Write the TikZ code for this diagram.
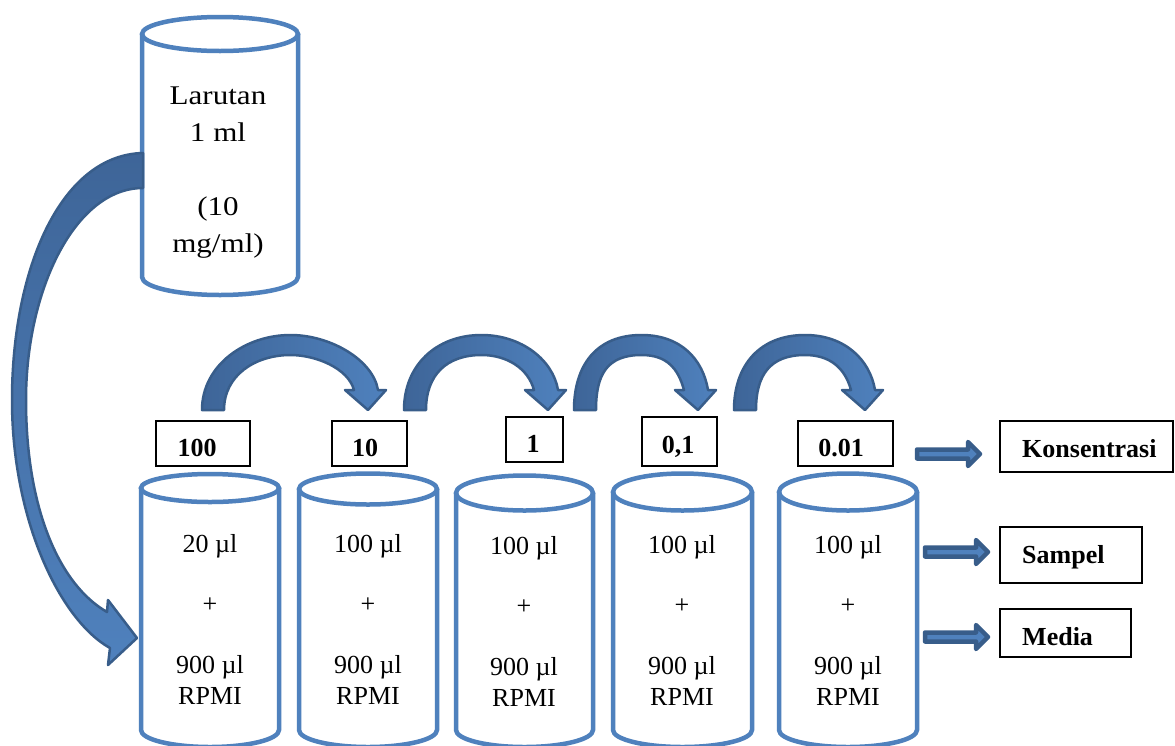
\documentclass[tikz,border=0pt]{standalone}
\usepackage{fontspec}
\setmainfont{Liberation Serif}
\newfontfamily\widefont[FakeStretch=1.15]{Liberation Serif}

\definecolor{tubeblue}{RGB}{79,129,189}
\definecolor{arrowedge}{RGB}{56,93,138}
\definecolor{arrowdark}{RGB}{62,101,152}

% tube: name, centre x, x radius, top y, top y radius, bottom y, bottom y radius
\newcommand\tube[7]{%
  \coordinate (#1) at (#2,#4);
  \draw[tubeline] (#2-#3,#4) -- (#2-#3,#6)
     arc[start angle=180, end angle=0, x radius=#3, y radius=#7] -- (#2+#3,#4);
  \draw[tubeline] (#2,#4) ellipse[x radius=#3, y radius=#5];
}

% arched transfer arrow: left foot x, tip x
\newcommand\hop[2]{%
  \pgfmathsetmacro\hopmid{(#1+11+#2)/2}
  \path[hoparrow] (#1,410)
    .. controls (#1,365) and (\hopmid-45,335) .. (\hopmid,335)
    .. controls (\hopmid+40,335) and (#2+5,360) .. (#2+10,390)
    -- (#2+18,390) -- (#2,410) -- (#2-23,390) -- (#2-14,390)
    .. controls (#2-20,368) and (\hopmid+25,355) .. (\hopmid,355)
    .. controls (\hopmid-35,355) and (#1+22,375) .. (#1+22,410) -- cycle;
}

% straight block arrow: start x, head base x, tip x, centre y
\newcommand\pointer[4]{%
  \path[blockarrow] (#1,#4-4.5) -- (#2,#4-4.5) -- (#2,#4-12) -- (#3,#4)
    -- (#2,#4+12) -- (#2,#4+4.5) -- (#1,#4+4.5) -- cycle;
}

\begin{document}
\begin{tikzpicture}[
  x=1pt, y=-1pt,
  tubeline/.style={draw=tubeblue, line width=4.5pt},
  hoparrow/.style={draw=arrowedge, line width=2.5pt, line join=round,
                   left color=arrowdark, right color=tubeblue},
  bigarrow/.style={draw=arrowedge, line width=2.5pt, line join=round,
                   top color=arrowdark, bottom color=tubeblue},
  blockarrow/.style={draw=arrowedge, fill=tubeblue, line width=4.5pt, line join=round},
  labelbox/.style={draw=black, line width=1.8pt, inner sep=0pt},
  labeltext/.style={font=\bfseries\fontsize{26}{30}\selectfont, inner sep=0pt, anchor=base},
  srctext/.style={font=\widefont\fontsize{27}{37}\selectfont, align=center, inner sep=0pt},
  mixtext/.style={font=\fontsize{26}{30.4}\selectfont, align=center, inner sep=0pt},
]
\useasboundingbox (0,0) rectangle (1175,745);
\fill[white] (0,0) rectangle (1175,745);

% stock solution and dilution tubes
\tube{src}{220}{78}{34}{17}{277}{18}
\tube{d1}{210}{69}{488}{14}{730}{17}
\tube{d2}{368}{69}{489}{15.5}{730}{17}
\tube{d3}{524.5}{68.5}{493}{17.5}{730}{17}
\tube{d4}{682.5}{69.5}{492}{18.5}{730}{17}
\tube{d5}{848}{69}{492}{18.5}{730}{17}

\node[srctext] (srcT) at (218,170.6) {\strut Larutan\\1 ml\\ \strut\\(10\\mg/ml)\strut};

\node[mixtext] (m1) at (210,622) {\strut 20 µl\\ \strut\\+\\ \strut\\900 µl\\RPMI\strut};
\node[mixtext] (m2) at (368,622) {\strut 100 µl\\ \strut\\+\\ \strut\\900 µl\\RPMI\strut};
\node[mixtext] (m3) at (524,624) {\strut 100 µl\\ \strut\\+\\ \strut\\900 µl\\RPMI\strut};
\node[mixtext] (m4) at (682,623) {\strut 100 µl\\ \strut\\+\\ \strut\\900 µl\\RPMI\strut};
\node[mixtext] (m5) at (848,623) {\strut 100 µl\\ \strut\\+\\ \strut\\900 µl\\RPMI\strut};

% concentration boxes above the tubes
\node[labelbox, minimum width=94pt, minimum height=45pt] (b1) at (203,443.5) {};
\node[labelbox, minimum width=75pt, minimum height=45pt] (b2) at (369.5,443.5) {};
\node[labelbox, minimum width=57pt, minimum height=45pt] (b3) at (534.5,439.5) {};
\node[labelbox, minimum width=75pt, minimum height=49pt] (b4) at (679.5,441.5) {};
\node[labelbox, minimum width=95pt, minimum height=45pt] (b5) at (845.5,443.5) {};
\node[labeltext] (v1) at (197,456) {100};
\node[labeltext] (v2) at (365,456) {10};
\node[labeltext] (v3) at (533,452) {1};
\node[labeltext] (v4) at (678,453) {0,1};
\node[labeltext] (v5) at (841,456) {0.01};

% legend
\node[labelbox, minimum width=173pt, minimum height=51pt] (kbox) at (1086.5,446.5) {};
\node[labelbox, minimum width=142pt, minimum height=56pt] (sbox) at (1071,555) {};
\node[labelbox, minimum width=131pt, minimum height=48pt] (mbox) at (1065.5,633) {};
\node[labeltext, anchor=base west] (ktext) at (1022,457) {Konsentrasi};
\node[labeltext, anchor=base west] (stext) at (1022,563) {Sampel};
\node[labeltext, anchor=base west] (mtext) at (1022,645) {Media};

\pointer{917}{968}{980}{454}
\pointer{925}{976}{988}{552}
\pointer{925}{976}{988}{637}

% transfers between tubes
\hop{202}{368}
\hop{404}{548}
\hop{574}{698}
\hop{734}{865}

% stock solution into the first tube
\path[bigarrow] (143,153)
  .. controls (60,155) and (12,270) .. (12,400)
  .. controls (12,520) and (60,620) .. (110,648)
  -- (108,665) -- (137,638) -- (108,600) -- (107,612)
  .. controls (60,585) and (26,510) .. (26,400)
  .. controls (26,290) and (75,188) .. (143,188) -- cycle;
\end{tikzpicture}
\end{document}
